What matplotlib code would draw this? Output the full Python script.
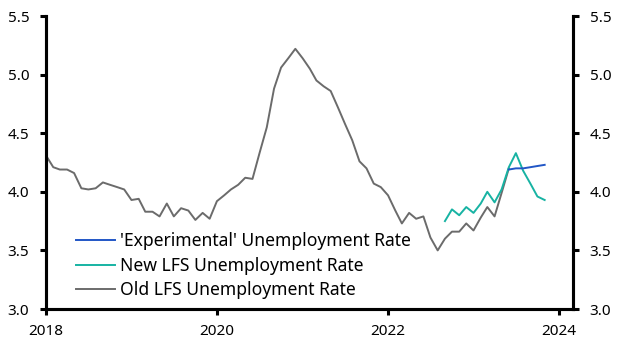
import matplotlib
matplotlib.use("Agg")
import matplotlib.pyplot as plt
import pandas as pd

plt.rcParams['font.family'] = ['Noto Sans', 'DejaVu Sans']

old_start = "2018-01-01"
old_lfs = [4.31, 4.21, 4.19, 4.19, 4.16, 4.03, 4.02, 4.03, 4.08, 4.06, 4.04, 4.02,
           3.93, 3.94, 3.83, 3.83, 3.79, 3.90, 3.79, 3.86, 3.84, 3.76, 3.82, 3.77,
           3.92, 3.97, 4.02, 4.06, 4.12, 4.11, 4.33, 4.55, 4.88, 5.06, 5.14, 5.22,
           5.14, 5.05, 4.95, 4.90, 4.86, 4.72, 4.58, 4.44, 4.26, 4.20, 4.07, 4.04,
           3.97, 3.84, 3.73, 3.82, 3.77, 3.79, 3.61, 3.50, 3.60, 3.66, 3.66, 3.73,
           3.67, 3.78, 3.87, 3.79, 3.99, 4.20]
new_start = "2022-09-01"
new_lfs = [3.75, 3.85, 3.80, 3.87, 3.82, 3.90, 4.00, 3.91, 4.02, 4.21, 4.33, 4.18,
           4.07, 3.96, 3.93]
exp_start = "2023-06-01"
experimental = [4.19, 4.20, 4.20, 4.21, 4.22, 4.23]

labels = ["'Experimental' Unemployment Rate", "New LFS Unemployment Rate",
          "Old LFS Unemployment Rate"]
year_ticks = ["2018", "2020", "2022", "2024"]
y_ticks = [3.0, 3.5, 4.0, 4.5, 5.0, 5.5]

old_dates = pd.date_range(old_start, periods=len(old_lfs), freq="MS")
new_dates = pd.date_range(new_start, periods=len(new_lfs), freq="MS")
exp_dates = pd.date_range(exp_start, periods=len(experimental), freq="MS")

fig = plt.figure(figsize=(6.27, 3.53), dpi=100)
ax = fig.add_axes([46/627, 44/353, (573-46)/627, (309-16)/353])

l_old, = ax.plot(old_dates, old_lfs, color="#6b6b6b", lw=1.4, label=labels[2])
l_new, = ax.plot(new_dates, new_lfs, color="#17b3a3", lw=1.4, label=labels[1])
l_exp, = ax.plot(exp_dates, experimental, color="#2156c6", lw=1.4, label=labels[0])

ax.set_xlim(pd.Timestamp("2018-01-01"), pd.Timestamp("2024-03-01"))
ax.set_ylim(3.0, 5.5)
ax.set_xticks([pd.Timestamp(f"{y}-01-01") for y in year_ticks])
ax.set_xticklabels(year_ticks)
ax.set_yticks(y_ticks)
ax.set_yticklabels([f"{v:.1f}" for v in y_ticks])

ax2 = ax.twinx()
ax2.set_ylim(3.0, 5.5)
ax2.set_yticks(y_ticks)
ax2.set_yticklabels([f"{v:.1f}" for v in y_ticks])

for a in (ax, ax2):
    a.spines['top'].set_visible(False)
    for s in ('left', 'right', 'bottom'):
        a.spines[s].set_linewidth(2.2)
        a.spines[s].set_color('black')
    a.tick_params(axis='both', direction='out', width=2.2, length=4.5,
                  labelsize=11, colors='black', pad=7.5)

ax.tick_params(axis='x', pad=6)

leg = ax.legend(handles=[l_exp, l_new, l_old], loc='lower left',
                bbox_to_anchor=(0.038, 0.0), frameon=False, fontsize=12.6,
                handlelength=2.25, handletextpad=0.3, labelspacing=0.38,
                borderaxespad=0.15)

fig.savefig("out.png", dpi=100)
